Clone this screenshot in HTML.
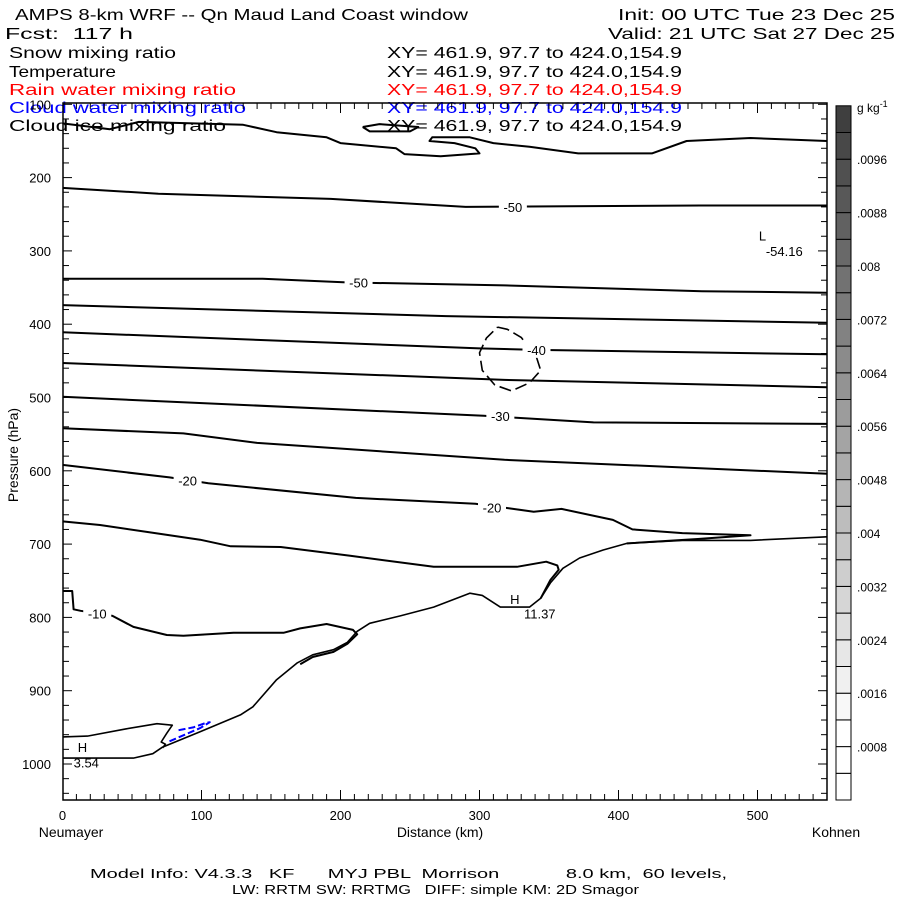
<!DOCTYPE html>
<html><head><meta charset="utf-8"><style>
html,body{margin:0;padding:0;background:#fff;}
svg{display:block;font-family:"Liberation Sans",sans-serif;}
text{white-space:pre;}
</style></head><body>
<svg id="chart" width="900" height="900" viewBox="0 0 900 900" xml:space="preserve">
<g font-size="16">
<text x="15" y="20" textLength="453" lengthAdjust="spacingAndGlyphs">AMPS 8-km WRF -- Qn Maud Land Coast window</text>
<text x="895" y="20" text-anchor="end" textLength="277" lengthAdjust="spacingAndGlyphs">Init: 00 UTC Tue 23 Dec 25</text>
<text x="5" y="39" textLength="128" lengthAdjust="spacingAndGlyphs">Fcst:  117 h</text>
<text x="895" y="39" text-anchor="end" textLength="287" lengthAdjust="spacingAndGlyphs">Valid: 21 UTC Sat 27 Dec 25</text>
<text x="9" y="58" textLength="167" lengthAdjust="spacingAndGlyphs">Snow mixing ratio</text>
<text x="387" y="58" textLength="295" lengthAdjust="spacingAndGlyphs">XY= 461.9, 97.7 to 424.0,154.9</text>
<text x="9" y="77" textLength="107" lengthAdjust="spacingAndGlyphs">Temperature</text>
<text x="387" y="77" textLength="295" lengthAdjust="spacingAndGlyphs">XY= 461.9, 97.7 to 424.0,154.9</text>
<text x="9" y="95" fill="#ff0000" textLength="227" lengthAdjust="spacingAndGlyphs">Rain water mixing ratio</text>
<text x="387" y="95" fill="#ff0000" textLength="295" lengthAdjust="spacingAndGlyphs">XY= 461.9, 97.7 to 424.0,154.9</text>
<text x="9" y="113" fill="#0000ff" textLength="237" lengthAdjust="spacingAndGlyphs">Cloud water mixing ratio</text>
<text x="387" y="113" fill="#0000ff" textLength="295" lengthAdjust="spacingAndGlyphs">XY= 461.9, 97.7 to 424.0,154.9</text>
<text x="9" y="131" textLength="217" lengthAdjust="spacingAndGlyphs">Cloud ice mixing ratio</text>
<text x="387" y="131" textLength="295" lengthAdjust="spacingAndGlyphs">XY= 461.9, 97.7 to 424.0,154.9</text>
</g>
<g id="plot"></g>
<g id="cbar"></g>
<g font-size="14">
<text x="440" y="837" text-anchor="middle">Distance (km)</text>
<text x="71" y="837" text-anchor="middle">Neumayer</text>
<text x="836" y="837" text-anchor="middle">Kohnen</text>
<text transform="translate(18,455) rotate(-90)" text-anchor="middle">Pressure (hPa)</text>
<text x="90" y="878" font-size="13" textLength="637" lengthAdjust="spacingAndGlyphs">Model Info: V4.3.3   KF      MYJ PBL  Morrison            8.0 km,  60 levels,</text>
<text x="232" y="894" font-size="13" textLength="407" lengthAdjust="spacingAndGlyphs">LW: RRTM SW: RRTMG   DIFF: simple KM: 2D Smagor</text>
</g>
</svg>
<script>
const yTicks=[100,200,300,400,500,600,700,800,900,1000];
const xTicks=[0,100,200,300,400,500];
const cbarLabels=[".0008",".0016",".0024",".0032",".004",".0048",".0056",".0064",".0072",".008",".0088",".0096"];
const cbarValues=[0.0008,0.0016,0.0024,0.0032,0.004,0.0048,0.0056,0.0064,0.0072,0.008,0.0088,0.0096];
// contours: [km, hPa]
const cTop=[[0,126],[34,134],[55,124],[130,128],[154,138],[190,145],[200,153],[240,160],[246,168],[272,171],[300,167],[297,160],[282,153],[264,150],[266,145],[293,145],[310,153],[336,158],[371,167],[424,167],[449,150],[495,146],[550,150]];
const cTopLoop=[[216,131],[228,127],[256,131],[250,137],[221,137],[216,131]];
const c50a=[[0,214],[69,222],[193,229],[290,240],[364,239],[459,238],[550,238]];
const c50b=[[0,338],[144,338],[204,343],[318,347],[460,355],[550,357]];
const c45=[[0,374],[276,389],[550,398]];
const c40=[[0,411],[300,433],[341,435],[550,441]];
const c35=[[0,453],[318,476],[550,486]];
const c30=[[0,499],[303,525],[382,534],[550,536]];
const c25=[[0,542],[87,549],[140,562],[318,585],[550,604]];
const c20=[[0,592],[77,609],[105,617],[211,637],[297,645],[321,651],[339,656],[359,652],[396,667],[410,680],[446,685],[495,688],[457,693],[406,699]];
const c15=[[0,669],[27,674],[63,684],[99,694],[121,703],[157,704],[207,716],[267,731],[295,731],[327,731],[348,724],[356,729],[357,735],[351,749],[344,774]];
const cTerrain=[[0,992],[51,992],[65,986],[72,977],[99,956],[128,933],[137,922],[154,885],[169,862],[180,851],[195,844],[205,834],[212,819],[221,808],[243,798],[267,786],[293,767],[302,770],[315,786],[336,786],[344,774],[351,753],[360,733],[372,719],[389,708],[406,699],[446,695],[495,695],[550,690]];
const c10=[[0,764],[7,764],[8,789],[13,791],[36,798],[51,813],[75,824],[87,825],[123,821],[159,821],[171,815],[190,809],[209,817],[212,823],[205,836],[195,847],[180,854],[171,864]];
const cLow=[[0,963],[18,962],[46,952],[68,945],[79,947],[75,958],[71,970],[74,973],[72,978]];
const cIce=[[313,404],[320,407],[330,418],[341,445],[344,463],[336,480],[323,491],[311,483],[302,463],[300,439],[305,419],[313,404]];
const cCloud=[[77,969],[88,960],[99,951],[106,943],[103,944],[94,950],[83,954]];
const labelText=["-50","-50","-40","-30","-20","-20","-10"];
const labelKm=[324,213,341,315,90,309,25];
const labelP=[240,343,435,525,613,650,795];
const extText=["L","-54.16","H","11.37","H","3.54"];
const extKm=[501,506,322,332,11,8];
const extP=[279,300,775,795,977,998];

const X0=63,X1=827,Y0=103,Y1=800;
const x=km=>62.5+1.39*km;
const y=p=>764-(1000-p)*0.733;
const NS="http://www.w3.org/2000/svg";
const plot=document.getElementById('plot');
function mk(t,a,parent){const e=document.createElementNS(NS,t);for(const k in a)e.setAttribute(k,a[k]);(parent||plot).appendChild(e);return e;}

for(let p=100;p<=1040;p+=20){const big=p%100===0;
 const t1=mk('line',{x1:X0,x2:X0+(big?9:6),y1:y(p),y2:y(p),stroke:'#000'});
 
 
 const t2=mk('line',{x1:X1,x2:X1-(big?9:6),y1:y(p),y2:y(p),stroke:'#000'});
 
 }
for(let d=10;d<550;d+=10){const big=d%100===0;
 const t1=mk('line',{x1:x(d),x2:x(d),y1:Y1,y2:Y1-(big?10:6),stroke:'#000'});
 
 
 const t2=mk('line',{x1:x(d),x2:x(d),y1:Y0,y2:Y0+(big?10:6),stroke:'#000'});
 
 }
yTicks.forEach(p=>{const t=mk('text',{x:51,y:y(p)+5,'text-anchor':'end','font-size':13});t.textContent=p;
 
 });
xTicks.forEach(d=>{const t=mk('text',{x:x(d),y:820,'text-anchor':'middle','font-size':13});t.textContent=d;
 
 });

function line(pts,name,opts){const e=mk('polyline',Object.assign({points:pts.map(q=>x(q[0]).toFixed(1)+','+y(q[1]).toFixed(1)).join(' '),fill:'none',stroke:'#000','stroke-width':2,'stroke-linejoin':'round'},opts||{}));
 
 }
line(cTop,'contour-cloud-ice-top',{});
line(cTopLoop,'contour-top-loop',{});
line(c50a,'isotherm-minus50-upper');
line(c50b,'isotherm-minus50-lower');
line(c45,'isotherm-minus45');
line(c40,'isotherm-minus40');
line(c35,'isotherm-minus35');
line(c30,'isotherm-minus30');
line(c25,'isotherm-minus25');
line(c20,'isotherm-minus20');
line(c15,'isotherm-minus15');
line(cTerrain,'contour-terrain',{'stroke-width':1.6});
line(c10,'isotherm-minus10');
line(cLow,'contour-low-loop',{'stroke-width':1.6});
line(cIce,'contour-snow-dashed',{'stroke-width':1.6,'stroke-dasharray':'12,5'});
line(cCloud,'contour-cloud-water',{stroke:'#0000ff','stroke-dasharray':'7,3'});

labelText.forEach((s,i)=>{const cx=x(labelKm[i]),cy=y(labelP[i]);
 const r=mk('rect',{x:cx-14,y:cy-8,width:28,height:16,fill:'#fff'});
 
 
 const t=mk('text',{x:cx,y:cy+5,'text-anchor':'middle','font-size':13});t.textContent=s;
 
 });
extText.forEach((s,i)=>{const t=mk('text',{x:x(extKm[i]),y:y(extP[i])+5,'text-anchor':'start','font-size':13});t.textContent=s;
 
 });

const fr=mk('rect',{x:X0,y:Y0,width:X1-X0,height:Y1-Y0,fill:'none',stroke:'#000','stroke-width':1.5});



const cb=document.getElementById('cbar');
const CB0=800,CBH=26.7,nBox=26;
const cy=v=>CB0-v/0.0004*CBH;
for(let k=0;k<nBox;k++){const g=k<3?255:Math.round(248-(k-3)*8.4);
 const r=mk('rect',{x:836,y:CB0-(k+1)*CBH,width:15,height:CBH,fill:`rgb(${g},${g},${g})`,stroke:'#000','stroke-width':1},cb);
 
 }
cbarValues.forEach((v,i)=>{const t=mk('text',{x:857,y:cy(v)+5,'font-size':12},cb);t.textContent=cbarLabels[i];
 
 });
const u=mk('text',{x:857,y:112,'font-size':12},cb);u.innerHTML='g kg<tspan dy="-5" font-size="9">-1</tspan>';


</script>
</body></html>
